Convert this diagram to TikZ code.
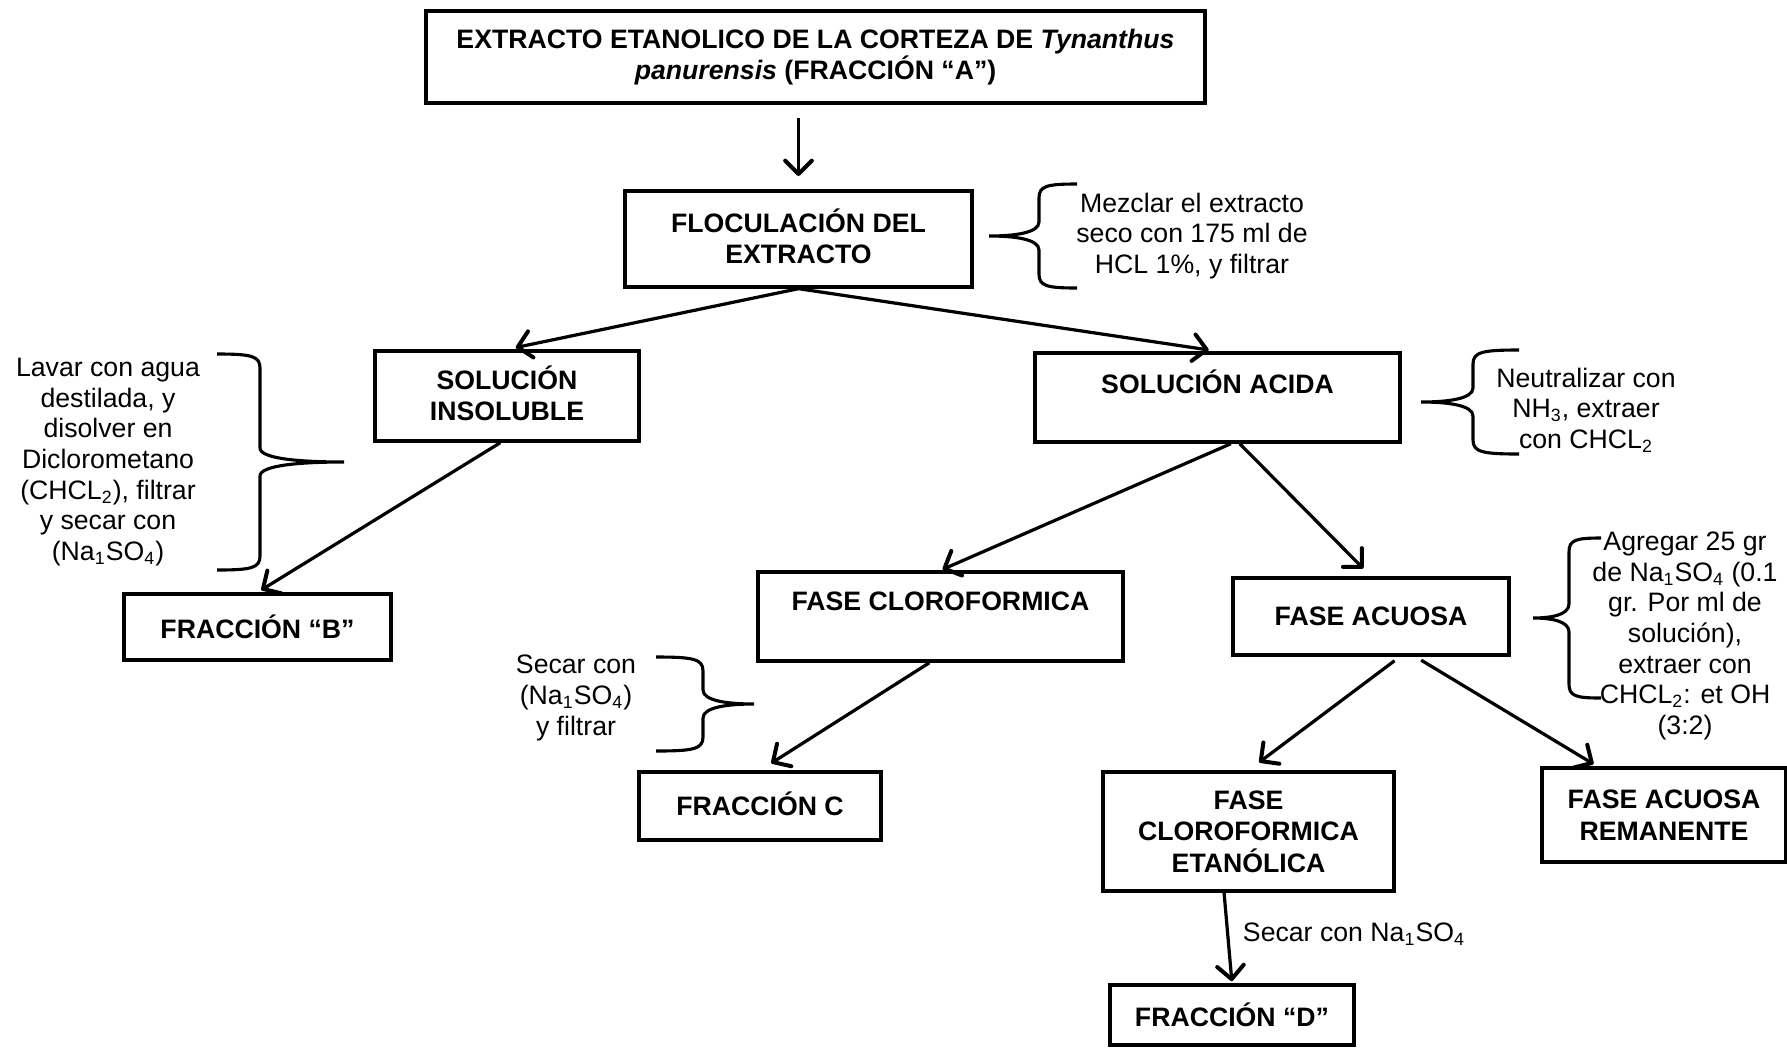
\documentclass[tikz,border=0pt]{standalone}
\usepackage{fontspec}
\setmainfont{Liberation Sans}
\usepackage{tikz}
\usetikzlibrary{arrows.meta, positioning}

\tikzset{
  stepbox/.style={draw, line width=1.5pt, inner sep=0pt, align=center,
    font=\bfseries\fontsize{12}{14.2}\selectfont},
  note/.style={align=center, inner sep=0pt, font=\fontsize{12}{13.8}\selectfont},
  arr/.style={-{Straight Barb[length=6pt,width=12pt,line width=1.8pt,round]}, line width=1.45pt},
  bracepen/.style={line width=1.4pt},
  % curly brace: half height / tip to stem / stem to end
  pics/curly/.style args={#1/#2/#3}{code={
    \draw[bracepen] (#2+#3,-#1) .. controls (#2+0.2*#3,-#1) and (#2,-#1+2) .. (#2,-#1+14)
      -- (#2,-14) .. controls (#2,-3) and (0.5*#2,0) .. (0,0)
      .. controls (0.5*#2,0) and (#2,3) .. (#2,14)
      -- (#2,#1-14) .. controls (#2,#1-2) and (#2+0.2*#3,#1) .. (#2+#3,#1);
  }}
}

\begin{document}
\begin{tikzpicture}[x=0.45pt, y=-0.45pt]
  \useasboundingbox (0,0) rectangle (1787,1047);

  % Boxes
  \node[stepbox, minimum width=350.6pt, minimum height=41.4pt] (extracto) at (815.5,57)
    {EXTRACTO ETANOLICO DE LA CORTEZA DE \textit{Tynanthus}\\\textit{panurensis} (FRACCIÓN “A”)};
  \node[stepbox, minimum width=156.2pt, minimum height=43.2pt] (flocula) at (798.5,239)
    {FLOCULACIÓN DEL\\EXTRACTO\vphantom{p}};
  \node[stepbox, minimum width=118.8pt, minimum height=40.5pt] (insol) at (507,396)
    {SOLUCIÓN\\INSOLUBLE\vphantom{p}};
  \node[stepbox, minimum width=164.3pt, minimum height=40.1pt] (acida) at (1217.5,397.5)
    {SOLUCIÓN ACIDA\\\mbox{}};
  \node[stepbox, minimum width=120.2pt, minimum height=29.7pt] (fracB) at (257.5,627)
    {FRACCIÓN “B”};
  \node[stepbox, minimum width=164.3pt, minimum height=40.1pt] (clorof) at (940.5,616.5)
    {FASE CLOROFORMICA\\\mbox{}};
  \node[stepbox, minimum width=124.2pt, minimum height=34.7pt] (acuosa) at (1371,616.5)
    {FASE ACUOSA};
  \node[stepbox, minimum width=108.9pt, minimum height=30.6pt] (fracC) at (760,806)
    {FRACCIÓN C\vphantom{p}};
  \node[stepbox, minimum width=131pt, minimum height=53.6pt] (etanol) at (1248.5,831.5)
    {FASE\\CLOROFORMICA\\ETANÓLICA};
  \node[stepbox, minimum width=109.8pt, minimum height=42.3pt] (remanente) at (1664,815)
    {FASE ACUOSA\\REMANENTE};
  \node[stepbox, minimum width=109.8pt, minimum height=27pt] (fracD) at (1232,1015)
    {FRACCIÓN “D”};

  % Notes
  \node[note] (nflocula) at (1192,236)
    {Mezclar el extracto\\seco con 175 ml de\\HCL 1\%, y filtrar};
  \node[note] (ninsol) at (108,462)
    {Lavar con agua\\destilada, y\\disolver en\\Diclorometano\\(CHCL\textsubscript{2}), filtrar\\y secar con\\(Na\textsubscript{1}SO\textsubscript{4})};
  \node[note] (nacida) at (1586,410)
    {Neutralizar con\\NH\textsubscript{3}, extraer\\con CHCL\textsubscript{2}};
  \node[note] (nacuosa) at (1685,636)
    {Agregar 25 gr\\de Na\textsubscript{1}SO\textsubscript{4} (0.1\\gr. Por ml de\\solución),\\extraer con\\CHCL\textsubscript{2}: et OH\\(3:2)};
  \node[note] (nclorof) at (576,698)
    {Secar con\\(Na\textsubscript{1}SO\textsubscript{4})\\y filtrar};
  \node[note] (netanol) at (1354,934)
    {Secar con Na\textsubscript{1}SO\textsubscript{4}};

  % Braces
  \pic at (989,236) {curly=52/50/38};
  \pic[xscale=-1] at (344,462) {curly=108/84/43};
  \pic at (1421,402) {curly=52/52/46};
  \pic at (1533,618) {curly=80/36/32};
  \pic[xscale=-1] at (754,704) {curly=47/51/47};

  % Arrows
  \draw[arr, shorten <=6pt, shorten >=6pt] (extracto.south -| flocula.north) -- (flocula.north);
  \draw[arr, shorten >=4pt] (flocula.south) -- (insol.north);
  \draw[arr, shorten >=4pt] (flocula.south) -- (acida.north);
  \draw[arr, shorten >=2pt] ([xshift=-3pt]insol.south) -- (fracB.north);
  \draw[arr, shorten >=1pt] ([xshift=6pt]acida.south) -- (clorof.north);
  \draw[arr, shorten >=5pt] ([xshift=10pt]acida.south) -- (acuosa.north);
  \draw[arr, shorten >=6pt] ([xshift=-5pt]clorof.south) -- (fracC.north);
  \draw[arr, shorten <=3pt, shorten >=6pt] ([xshift=13pt]acuosa.south) -- (etanol.north);
  \draw[arr, shorten <=3pt, shorten >=2pt] ([xshift=20pt]acuosa.south) -- ([xshift=-30pt]remanente.north);
  \draw[arr, shorten >=1pt] ([xshift=-11pt]etanol.south) -- (fracD.north);
\end{tikzpicture}
\end{document}
